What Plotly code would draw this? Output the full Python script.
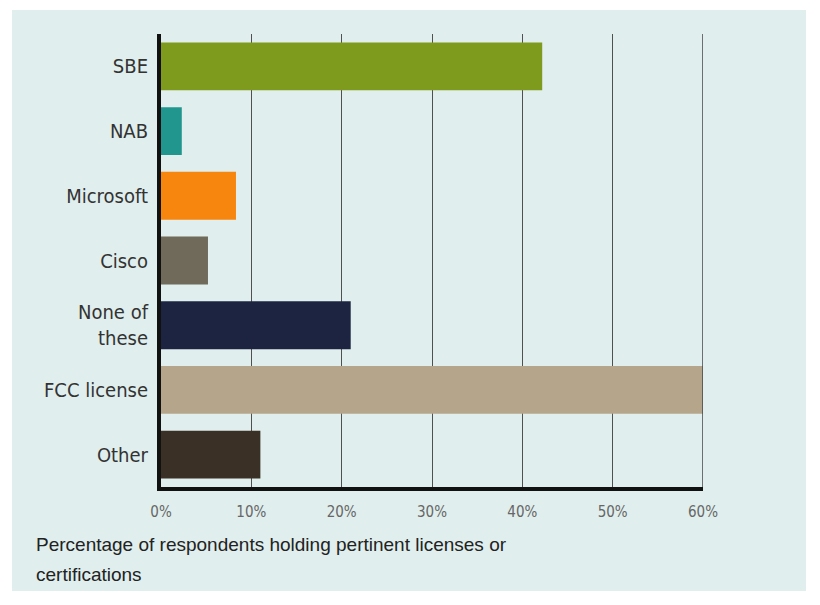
import plotly.graph_objects as go

categories = ["SBE", "NAB", "Microsoft", "Cisco", "None of<br>these", "FCC license", "Other"]
values = [42.2, 2.3, 8.3, 5.2, 21.0, 60.0, 11.0]
colors = ["#7e9b1e", "#21968f", "#f7860f", "#6f6a5a", "#1c2442", "#b5a68b", "#3b3026"]
tick_vals = [0, 10, 20, 30, 40, 50, 60]
tick_text = ["0%", "10%", "20%", "30%", "40%", "50%", "60%"]
title_lines = ["Percentage of respondents holding pertinent licenses or", "certifications"]

W, H = 820, 605
L, R, T, B = 161, 117, 34, 118
pw, ph = W - L - R, H - T - B

fig = go.Figure(go.Bar(
    y=categories, x=values, orientation="h",
    marker=dict(color=colors, line=dict(width=0)),
    width=0.74,
))

def px2paper_x(p):
    return (p - L) / pw

def px2paper_y(p):
    return 1 - (p - T) / ph

cond = "DejaVu Sans Condensed, Liberation Sans Narrow, Arial Narrow, sans-serif"

annotations = []
for i, (line, ypx) in enumerate(zip(title_lines, [557, 587])):
    annotations.append(dict(
        text=line, xref="paper", yref="paper",
        x=px2paper_x(34), y=px2paper_y(ypx),
        xanchor="left", yanchor="bottom", align="left", showarrow=False,
        font=dict(size=19, color="#222222", family="Liberation Sans, Arial, sans-serif"),
    ))

fig.update_layout(
    width=W, height=H,
    margin=dict(l=L, r=R, t=T, b=B),
    paper_bgcolor="white",
    plot_bgcolor="#e6f2f1",
    showlegend=False,
    font=dict(family=cond, color="#333333"),
    xaxis=dict(
        range=[0, 60], tickvals=tick_vals, ticktext=tick_text,
        showgrid=True, gridcolor="#505050", gridwidth=1,
        zeroline=False, showline=True, linecolor="#111111", linewidth=4,
        tickfont=dict(size=15, color="#666666", family=cond),
        ticks="", ticklabelstandoff=8, fixedrange=True,
    ),
    yaxis=dict(
        autorange="reversed", showgrid=False, zeroline=False,
        showline=True, linecolor="#111111", linewidth=4,
        tickfont=dict(size=20, color="#333333", family=cond),
        ticks="", ticklabelstandoff=5,
    ),
    shapes=[
        dict(type="rect", xref="paper", yref="paper",
             x0=px2paper_x(12), x1=px2paper_x(806), y0=px2paper_y(591), y1=px2paper_y(10),
             fillcolor="#e0eeed", line=dict(width=0), layer="below"),
        dict(type="line", xref="x", yref="paper", x0=60, x1=60, y0=0, y1=1,
             line=dict(color="#444444", width=1.5)),
    ],
    annotations=annotations,
)

fig.write_html("out.html")
